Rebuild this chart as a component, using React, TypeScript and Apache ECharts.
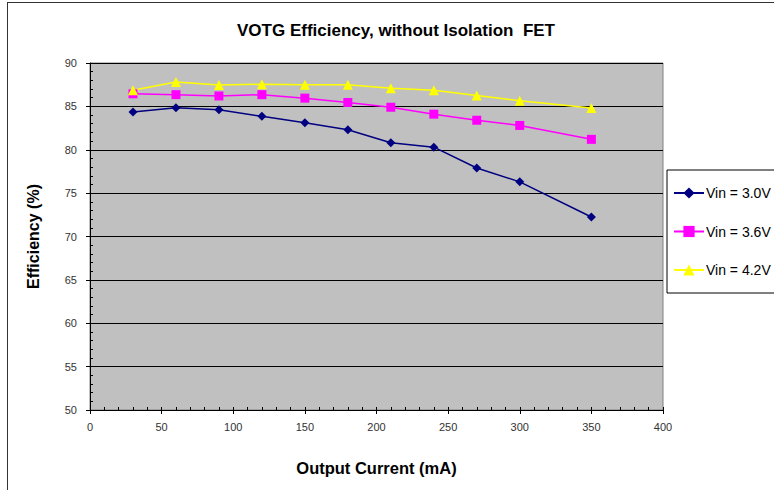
import React, { useEffect, useRef } from "react";
import * as echarts from "echarts";

const currents = [30, 60, 90, 120, 150, 180, 210, 240, 270, 300, 350];
const vin30 = [84.35, 84.85, 84.6, 83.85, 83.1, 82.3, 80.8, 80.3, 77.9, 76.3, 72.25];
const vin36 = [86.45, 86.35, 86.2, 86.35, 85.95, 85.45, 84.9, 84.1, 83.4, 82.8, 81.2];
const vin42 = [86.85, 87.8, 87.45, 87.55, 87.5, 87.5, 87.1, 86.85, 86.25, 85.65, 84.8];
const seriesNames = ["Vin = 3.0V", "Vin = 3.6V", "Vin = 4.2V"];

const FONT = "Liberation Sans, Arial, sans-serif";

export default function App() {
  const ref = useRef<HTMLDivElement>(null);
  useEffect(() => {
    if (!ref.current) return;
    const chart = echarts.init(ref.current, undefined, { renderer: "svg" });
    const pair = (ys: number[]) => currents.map((x, i) => [x, ys[i]]);
    const mk = (name: string, ys: number[], color: string, symbol: string, size: number) => ({
      name,
      type: "line",
      data: pair(ys),
      symbol,
      symbolSize: size,
      xAxisIndex: 0,
      yAxisIndex: 0,
      lineStyle: { color, width: 1.5 },
      itemStyle: { color, borderWidth: 0 },
      emphasis: { disabled: true },
    });
    chart.setOption({
      animation: false,
      backgroundColor: "#ffffff",
      textStyle: { fontFamily: FONT },
      title: {
        text: "VOTG Efficiency, without Isolation  FET",
        left: 391,
        textAlign: "center",
        top: 17,
        textStyle: { fontFamily: FONT, fontSize: 17, fontWeight: "bold", color: "#000" },
      },
      grid: {
        left: 90,
        right: 111,
        top: 63,
        bottom: 80,
        show: true,
        backgroundColor: "#c0c0c0",
        borderColor: "#808080",
        borderWidth: 1,
      },
      legend: {
        orient: "vertical",
        left: 667,
        top: 170,
        width: 105,
        padding: [16, 4, 16, 6],
        itemGap: 24.5,
        itemWidth: 30,
        itemHeight: 14,
        borderColor: "#000",
        borderWidth: 1,
        backgroundColor: "#fff",
        data: seriesNames,
        textStyle: { fontFamily: FONT, fontSize: 14, color: "#000", padding: [0, 0, 0, -3] },
      },
      xAxis: [
        {
          type: "value",
          min: 0,
          max: 400,
          interval: 50,
          name: "Output Current (mA)",
          nameLocation: "middle",
          nameGap: 49,
          nameTextStyle: { fontFamily: FONT, fontSize: 16.5, fontWeight: "bold", color: "#000" },
          axisLine: { show: true, onZero: false, lineStyle: { color: "#000", width: 1 } },
          axisTick: { show: true, inside: true, length: 3, lineStyle: { color: "#000" } },
          minorTick: { show: true, splitNumber: 5, length: 3, lineStyle: { color: "#000" } },
          axisLabel: { fontFamily: FONT, fontSize: 11, color: "#333", margin: 11 },
          splitLine: { show: false },
        },
        {
          type: "value",
          min: 0,
          max: 400,
          interval: 50,
          position: "bottom",
          axisLine: { show: false },
          axisTick: { show: true, inside: false, length: 4, lineStyle: { color: "#000" } },
          axisLabel: { show: false },
          splitLine: { show: false },
        },
      ],
      yAxis: [
        {
          type: "value",
          min: 50,
          max: 90,
          interval: 5,
          name: "Efficiency (%)",
          nameLocation: "middle",
          nameGap: 49,
          nameRotate: 90,
          nameTextStyle: { fontFamily: FONT, fontSize: 16, fontWeight: "bold", color: "#000" },
          axisLine: { show: true, lineStyle: { color: "#000", width: 1 } },
          axisTick: { show: true, inside: true, length: 3, lineStyle: { color: "#000" } },
          minorTick: { show: true, splitNumber: 5, length: 3, lineStyle: { color: "#000" } },
          axisLabel: { fontFamily: FONT, fontSize: 11, color: "#333", margin: 13 },
          splitLine: { show: true, lineStyle: { color: "#000", width: 1 } },
        },
        {
          type: "value",
          min: 50,
          max: 90,
          interval: 5,
          position: "left",
          axisLine: { show: false },
          axisTick: { show: true, inside: false, length: 4, lineStyle: { color: "#000" } },
          axisLabel: { show: false },
          splitLine: { show: false },
        },
      ],
      series: [
        mk(seriesNames[0], vin30, "#000080", "diamond", 9),
        mk(seriesNames[1], vin36, "#ff00ff", "rect", 9),
        mk(seriesNames[2], vin42, "#ffff00", "triangle", 10),
      ],
      graphic: [
        { type: "line", shape: { x1: 7, y1: 2.5, x2: 774, y2: 2.5 }, style: { stroke: "#333", lineWidth: 1 } },
        { type: "line", shape: { x1: 7.5, y1: 2, x2: 7.5, y2: 490 }, style: { stroke: "#333", lineWidth: 1 } },
      ],
    });
    return () => chart.dispose();
  }, []);
  return <div ref={ref} style={{ width: 774, height: 490, position: "absolute", left: 0, top: 0 }} />;
}
